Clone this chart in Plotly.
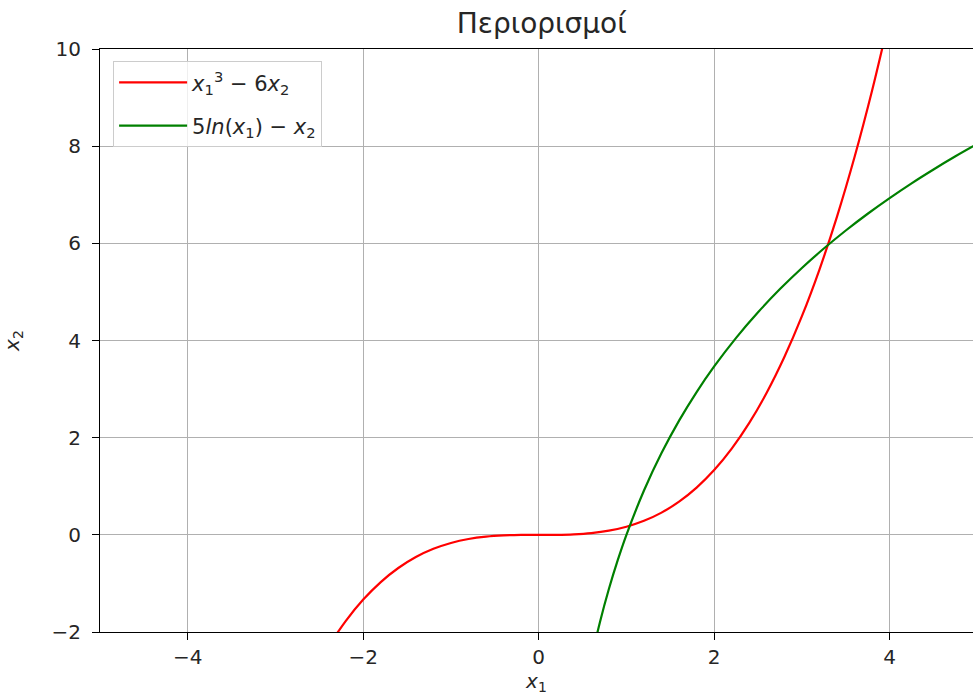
import plotly.graph_objects as go

# Red curve samples (x1, x2)
red_x = [-2.4, -2.2, -2.0, -1.8, -1.6, -1.4, -1.2, -1.0, -0.8, -0.6, -0.4, -0.2, 0.0,
         0.2, 0.4, 0.6, 0.8, 1.0, 1.2, 1.4, 1.6, 1.8, 2.0, 2.2, 2.4, 2.6, 2.8, 3.0,
         3.2, 3.4, 3.6, 3.8, 4.0]
red_y = [-2.304, -1.775, -1.333, -0.972, -0.683, -0.457, -0.288, -0.167, -0.085, -0.036,
         -0.011, -0.001, 0.0, 0.001, 0.011, 0.036, 0.085, 0.167, 0.288, 0.457, 0.683,
         0.972, 1.333, 1.775, 2.304, 2.929, 3.659, 4.5, 5.461, 6.551, 7.776, 9.145, 10.667]

# Green curve samples
green_x = [0.6, 0.7, 0.8, 0.9, 1.0, 1.2, 1.4, 1.6, 1.8, 2.0, 2.25, 2.5, 2.75, 3.0,
           3.25, 3.5, 3.75, 4.0, 4.25, 4.5, 4.75, 5.0]
green_y = [-2.554, -1.783, -1.116, -0.527, 0.0, 0.912, 1.682, 2.350, 2.939, 3.466, 4.055,
           4.581, 5.058, 5.493, 5.893, 6.264, 6.609, 6.931, 7.235, 7.520, 7.791, 8.047]

x_ticks = [-4, -2, 0, 2, 4]
y_ticks = [-2, 0, 2, 4, 6, 8, 10]

fig = go.Figure()
fig.add_trace(go.Scatter(x=red_x, y=red_y, mode="lines", legendgroup="a",
                         line=dict(color="red", width=2.2, shape="spline"),
                         name="<i>x</i><sub>1</sub><sup>3</sup> − 6<i>x</i><sub>2</sub>"))
fig.add_trace(go.Scatter(x=green_x, y=green_y, mode="lines", legendgroup="b",
                         line=dict(color="green", width=2.2, shape="spline"),
                         name="5<i>ln</i>(<i>x</i><sub>1</sub>) − <i>x</i><sub>2</sub>"))

font_fam = "DejaVu Sans, sans-serif"
fig.update_layout(
    width=973, height=695,
    margin=dict(l=100, r=0, t=49, b=63),
    paper_bgcolor="white", plot_bgcolor="white",
    font=dict(family=font_fam, size=20, color="#262626"),
    title=dict(text="Περιορισμοί", xref="paper", x=0.506, xanchor="center",
               yref="container", y=0.966, yanchor="middle",
               font=dict(family=font_fam, size=28, color="#262626")),
    showlegend=True,
    legend=dict(x=0.015, y=0.979, xanchor="left", yanchor="top",
                bgcolor="rgba(255,255,255,0.8)", bordercolor="#cccccc", borderwidth=1,
                font=dict(family=font_fam, size=21, color="#262626"),
                itemwidth=68, tracegroupgap=13),
)
fig.update_xaxes(range=[-5, 4.95], tickvals=x_ticks, ticktext=[str(v).replace("-", "−") for v in x_ticks],
                 showgrid=True, gridcolor="#b0b0b0", gridwidth=1,
                 showline=True, linecolor="black", linewidth=1, mirror=True,
                 ticks="outside", ticklen=7, tickcolor="black",
                 tickfont=dict(size=20),
                 zeroline=False,
                 title=dict(text="<i>x</i><sub>1</sub>", standoff=6, font=dict(size=20)))
fig.update_yaxes(range=[-2, 10], tickvals=y_ticks, ticktext=[str(v).replace("-", "−") for v in y_ticks],
                 showgrid=True, gridcolor="#b0b0b0", gridwidth=1,
                 showline=True, linecolor="black", linewidth=1,
                 ticks="outside", ticklen=7, tickcolor="black",
                 tickfont=dict(size=20), ticklabelstandoff=7,
                 zeroline=False,
                 title=dict(text="<i>x</i><sub>2</sub>", standoff=26, font=dict(size=20)))

fig.write_html("out.html")
